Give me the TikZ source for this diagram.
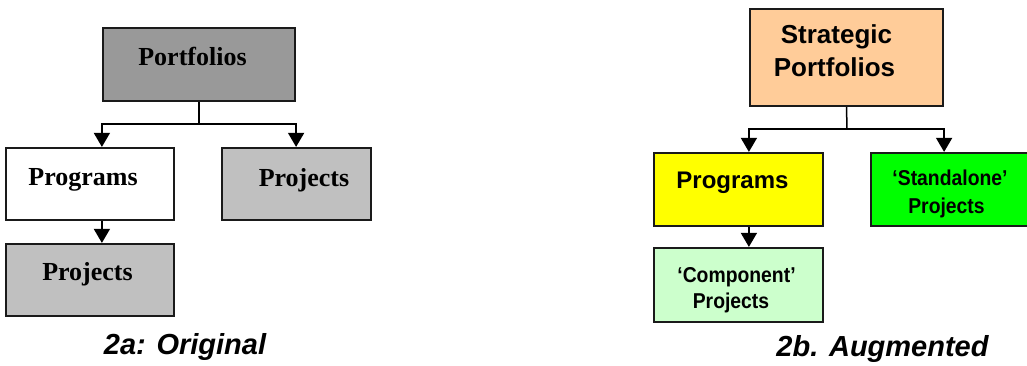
\documentclass[tikz,border=0pt]{standalone}
\usepackage{fontspec}
\usepackage{graphicx}
\setmainfont{Liberation Serif}
\newfontfamily\arialfont{Liberation Sans}
\usetikzlibrary{arrows.meta}
\definecolor{dgray}{HTML}{999999}
\definecolor{lgray}{HTML}{C0C0C0}
\definecolor{peach}{HTML}{FFCC99}
\definecolor{yel}{HTML}{FFFF00}
\definecolor{grn}{HTML}{00FF00}
\definecolor{lgrn}{HTML}{CCFFCC}
\definecolor{bord}{HTML}{1A1A1A}
\tikzset{
  box/.style={draw=bord, line width=2.2pt, rectangle, inner sep=0pt},
  conn/.style={line width=1.5pt, black},
  arr/.style={conn, -{Triangle[width=16pt,length=14pt]}},
  txt/.style={anchor=base, inner sep=0pt},
  serifb/.style={txt, font=\fontsize{26}{30}\selectfont\bfseries},
  sansb/.style={txt, font=\arialfont\fontsize{26}{30}\selectfont\bfseries},
  sansm/.style={txt, font=\arialfont\fontsize{24}{28}\selectfont\bfseries},
  narrow/.style={txt, font=\arialfont\fontsize{21.5}{24}\selectfont\bfseries},
  capt/.style={txt, font=\arialfont\fontsize{29}{32}\selectfont\bfseries\itshape},
}
\newcommand{\nrw}[1]{\scalebox{0.9}[1]{#1}}
\begin{document}
\begin{tikzpicture}[x=1pt,y=-1pt]
\clip (0,0) rectangle (1027,365);
\fill[white] (0,0) rectangle (1027,365);
% ---------- 2a ----------
\node[box, fill=dgray, minimum width=192pt, minimum height=73pt] (pf) at (199,64.5) {};
\node[box, fill=white, minimum width=168pt, minimum height=72pt] (prog) at (90,184) {};
\node[box, fill=lgray, minimum width=149pt, minimum height=72pt] (projR) at (296.5,184) {};
\node[box, fill=lgray, minimum width=168pt, minimum height=72pt] (projB) at (90,280) {};
\node[serifb] (tpf) at (192.5,65) {Portfolios};
\node[serifb] (tprog) at (83,185) {Programs};
\node[serifb] (tprojR) at (304,186) {Projects};
\node[serifb] (tprojB) at (87.5,280) {Projects};
\coordinate (ja) at (199,124);
\draw[conn] (pf.south) -- (ja);
\draw[arr] (ja) -| (prog.north -| pf.west);
\draw[arr] (ja) -| (projR.north -| pf.east);
\draw[arr] (prog.south -| pf.west) -- (projB.north -| pf.west);
\node[capt] (capa) at (185,354) {2a: Original};
% ---------- 2b ----------
\node[box, fill=peach, minimum width=193pt, minimum height=97pt] (sp) at (846.5,57.5) {};
\node[box, fill=yel, minimum width=169pt, minimum height=73pt] (prg) at (738.5,189.5) {};
\node[box, fill=grn, minimum width=162pt, minimum height=73pt] (sa) at (952,189.5) {};
\node[box, fill=lgrn, minimum width=169pt, minimum height=74pt] (comp) at (738.5,285) {};
\node[sansb] (tsp1) at (836.5,43) {Strategic};
\node[sansb] (tsp2) at (834.5,76) {Portfolios};
\node[sansm] (tprg) at (732.5,188) {Programs};
\node[narrow] (tsa1) at (950,185) {\nrw{‘Standalone’}};
\node[narrow] (tsa2) at (946.5,213) {\nrw{Projects}};
\node[narrow] (tcomp1) at (736.5,282) {\nrw{‘Component’}};
\node[narrow] (tcomp2) at (731,308) {\nrw{Projects}};
\coordinate (jb) at (847,129);
\draw[conn] (sp.south) -- (jb);
\draw[arr] (jb) -| (prg.north -| sp.west);
\draw[arr] (jb) -| (sa.north -| sp.east);
\draw[arr] (prg.south -| sp.west) -- (comp.north -| sp.west);
\node[capt] (capb) at (882.5,356) {2b. Augmented};
\end{tikzpicture}
\end{document}
